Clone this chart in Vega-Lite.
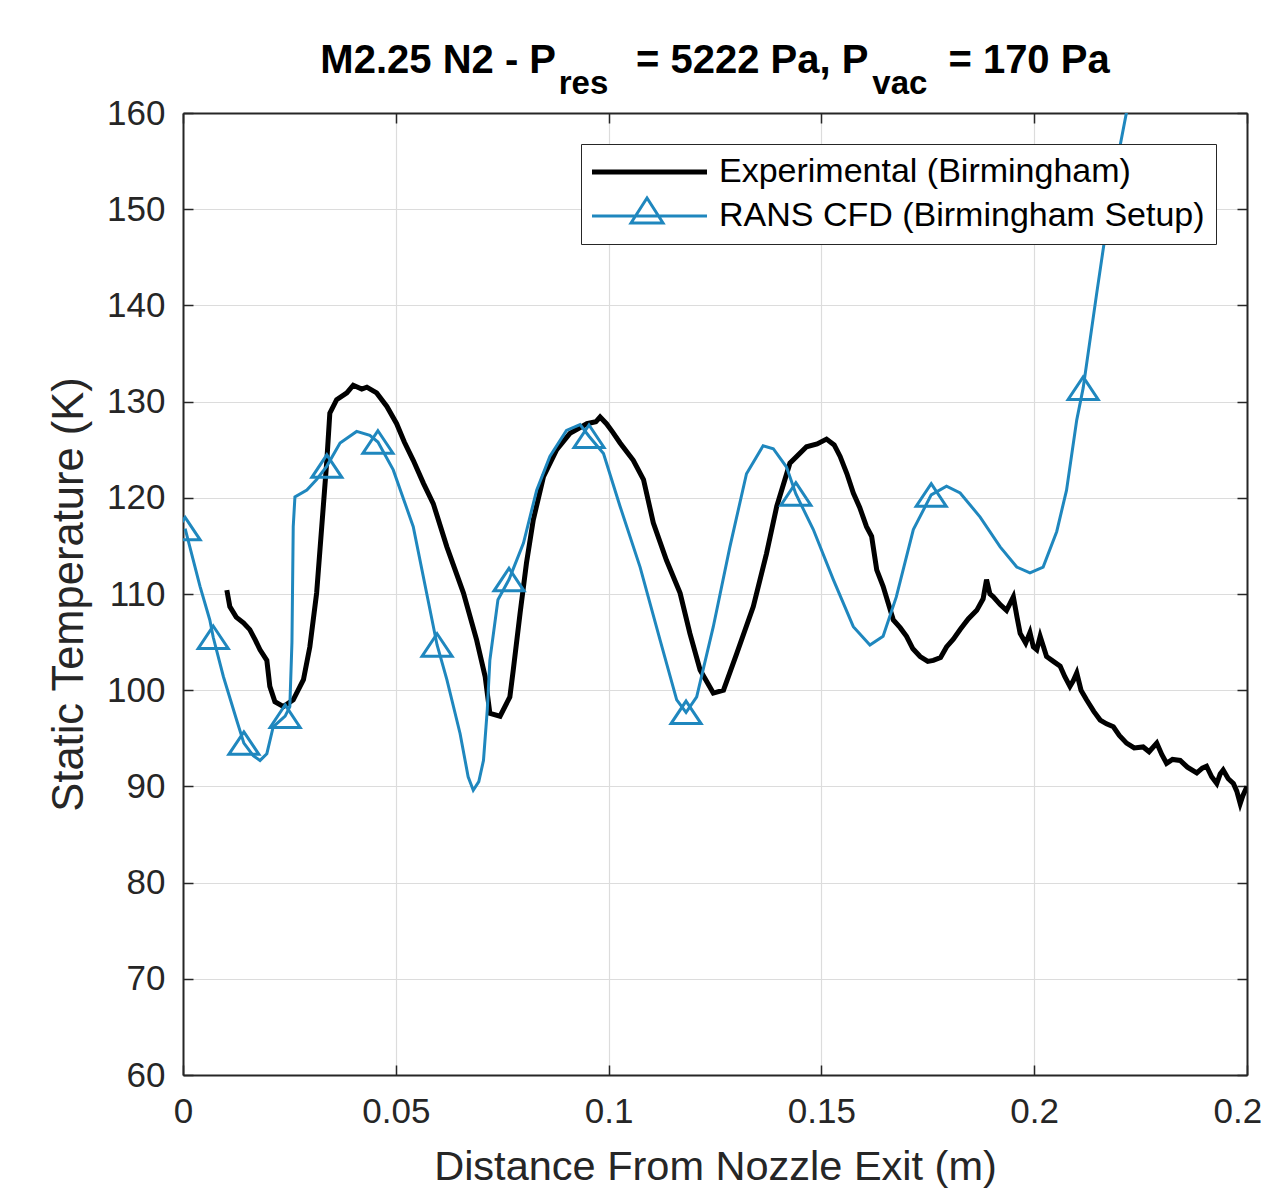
{
  "$schema": "https://vega.github.io/schema/vega-lite/v6.json",
  "width": 1064,
  "height": 962,
  "autosize": {"type": "none"},
  "padding": {"left": 183, "top": 113, "right": 14, "bottom": 123},
  "background": "white",
  "config": {
    "font": "Liberation Sans",
    "view": {"stroke": null},
    "axis": {"labelFont": "Liberation Sans", "titleFont": "Liberation Sans", "labelColor": "#262626", "titleColor": "#262626", "domainColor": "#262626", "domainWidth": 2, "tickColor": "#262626", "tickWidth": 1.5, "gridColor": "#dcdcdc", "gridWidth": 1.2, "labelFontSize": 35, "titleFontSize": 41.5, "titleFontWeight": "normal"}
  },
  "title": {
    "text": "M2.25 N2 - P\u2003\u2003= 5222 Pa, P\u2003\u2003= 170 Pa",
    "subtitle": "\u200b\u2003\u2002\u2009res\u2003\u2003\u2003\u2003\u2003\u2003\u2003\u2003vac\u200b",
    "fontSize": 40,
    "subtitleFontSize": 33,
    "fontWeight": "bold",
    "subtitleFontWeight": "bold",
    "color": "#000000",
    "subtitleColor": "#000000",
    "font": "Liberation Sans",
    "subtitleFont": "Liberation Sans",
    "anchor": "middle",
    "offset": -5,
    "subtitlePadding": -13
  },
  "datasets": {
    "exp": [
      {"x": 0.0103, "y": 110.4}, {"x": 0.0110, "y": 108.7}, {"x": 0.0125, "y": 107.6}, {"x": 0.0142, "y": 107.0},
      {"x": 0.0157, "y": 106.3}, {"x": 0.0170, "y": 105.2}, {"x": 0.0181, "y": 104.2}, {"x": 0.0197, "y": 103.1},
      {"x": 0.0204, "y": 100.4}, {"x": 0.0216, "y": 98.8}, {"x": 0.0236, "y": 98.3}, {"x": 0.0259, "y": 99.0},
      {"x": 0.0283, "y": 101.1}, {"x": 0.0298, "y": 104.5}, {"x": 0.0314, "y": 110.1}, {"x": 0.0326, "y": 117.0},
      {"x": 0.0338, "y": 123.9}, {"x": 0.0345, "y": 128.8}, {"x": 0.0361, "y": 130.2}, {"x": 0.0385, "y": 130.9},
      {"x": 0.0400, "y": 131.7}, {"x": 0.0420, "y": 131.3}, {"x": 0.0432, "y": 131.5}, {"x": 0.0455, "y": 130.9},
      {"x": 0.0479, "y": 129.5}, {"x": 0.0502, "y": 127.7}, {"x": 0.0520, "y": 125.8}, {"x": 0.0541, "y": 123.9},
      {"x": 0.0565, "y": 121.5}, {"x": 0.0588, "y": 119.4}, {"x": 0.0620, "y": 114.9}, {"x": 0.0659, "y": 110.1},
      {"x": 0.0690, "y": 105.2}, {"x": 0.0710, "y": 101.4}, {"x": 0.0721, "y": 97.6}, {"x": 0.0745, "y": 97.3},
      {"x": 0.0768, "y": 99.3}, {"x": 0.0776, "y": 102.1}, {"x": 0.0792, "y": 108.0}, {"x": 0.0807, "y": 113.2},
      {"x": 0.0823, "y": 117.7}, {"x": 0.0847, "y": 122.2}, {"x": 0.0878, "y": 125.0}, {"x": 0.0909, "y": 126.7},
      {"x": 0.0949, "y": 127.7}, {"x": 0.0970, "y": 127.9}, {"x": 0.0980, "y": 128.4}, {"x": 0.0995, "y": 127.7},
      {"x": 0.1010, "y": 126.8}, {"x": 0.1027, "y": 125.7}, {"x": 0.1058, "y": 123.9}, {"x": 0.1082, "y": 121.9},
      {"x": 0.1105, "y": 117.4}, {"x": 0.1136, "y": 113.5}, {"x": 0.1168, "y": 110.1}, {"x": 0.1191, "y": 105.9},
      {"x": 0.1215, "y": 102.1}, {"x": 0.1246, "y": 99.7}, {"x": 0.1270, "y": 100.0}, {"x": 0.1301, "y": 103.8},
      {"x": 0.1340, "y": 108.7}, {"x": 0.1371, "y": 114.2}, {"x": 0.1395, "y": 119.1}, {"x": 0.1426, "y": 123.6},
      {"x": 0.1465, "y": 125.3}, {"x": 0.1490, "y": 125.6}, {"x": 0.1512, "y": 126.1}, {"x": 0.1530, "y": 125.5},
      {"x": 0.1544, "y": 124.3}, {"x": 0.1560, "y": 122.5}, {"x": 0.1575, "y": 120.5}, {"x": 0.1590, "y": 119.0},
      {"x": 0.1606, "y": 117.0}, {"x": 0.1618, "y": 116.0}, {"x": 0.1630, "y": 112.5}, {"x": 0.1645, "y": 110.8},
      {"x": 0.1669, "y": 107.3}, {"x": 0.1685, "y": 106.5}, {"x": 0.1700, "y": 105.6}, {"x": 0.1715, "y": 104.3},
      {"x": 0.1732, "y": 103.5}, {"x": 0.1750, "y": 103.0}, {"x": 0.1763, "y": 103.1}, {"x": 0.1780, "y": 103.4},
      {"x": 0.1794, "y": 104.5}, {"x": 0.1810, "y": 105.3}, {"x": 0.1826, "y": 106.3}, {"x": 0.1845, "y": 107.4},
      {"x": 0.1865, "y": 108.3}, {"x": 0.1880, "y": 109.5}, {"x": 0.1888, "y": 111.5}, {"x": 0.1896, "y": 110.0},
      {"x": 0.1904, "y": 109.7}, {"x": 0.1920, "y": 108.9}, {"x": 0.1935, "y": 108.3}, {"x": 0.1943, "y": 109.0},
      {"x": 0.1951, "y": 109.7}, {"x": 0.1960, "y": 107.5}, {"x": 0.1967, "y": 105.9}, {"x": 0.1980, "y": 104.9},
      {"x": 0.1990, "y": 106.0}, {"x": 0.1998, "y": 104.5}, {"x": 0.2006, "y": 104.2}, {"x": 0.2014, "y": 105.6},
      {"x": 0.2022, "y": 104.5}, {"x": 0.2029, "y": 103.5}, {"x": 0.2045, "y": 103.0}, {"x": 0.2061, "y": 102.5},
      {"x": 0.2072, "y": 101.4}, {"x": 0.2084, "y": 100.4}, {"x": 0.2092, "y": 101.0}, {"x": 0.2100, "y": 101.8},
      {"x": 0.2110, "y": 100.0}, {"x": 0.2123, "y": 99.0}, {"x": 0.2140, "y": 97.8}, {"x": 0.2155, "y": 96.9},
      {"x": 0.2170, "y": 96.5}, {"x": 0.2186, "y": 96.2}, {"x": 0.2200, "y": 95.3}, {"x": 0.2217, "y": 94.5},
      {"x": 0.2235, "y": 94.0}, {"x": 0.2256, "y": 94.1}, {"x": 0.2270, "y": 93.6}, {"x": 0.2288, "y": 94.5},
      {"x": 0.2300, "y": 93.3}, {"x": 0.2311, "y": 92.4}, {"x": 0.2325, "y": 92.8}, {"x": 0.2343, "y": 92.7},
      {"x": 0.2360, "y": 92.0}, {"x": 0.2382, "y": 91.4}, {"x": 0.2395, "y": 91.9}, {"x": 0.2405, "y": 92.1},
      {"x": 0.2417, "y": 91.0}, {"x": 0.2429, "y": 90.3}, {"x": 0.2437, "y": 91.3}, {"x": 0.2444, "y": 91.7},
      {"x": 0.2456, "y": 90.8}, {"x": 0.2468, "y": 90.3}, {"x": 0.2476, "y": 89.5}, {"x": 0.2484, "y": 88.2},
      {"x": 0.2490, "y": 89.0}, {"x": 0.2500, "y": 90.0}
    ],
    "cfd": [
      {"x": 0.0005, "y": 116.8, "m": 1}, {"x": 0.0040, "y": 110.8, "m": 0}, {"x": 0.0063, "y": 107.3, "m": 0},
      {"x": 0.0071, "y": 105.5, "m": 1}, {"x": 0.0095, "y": 101.4, "m": 0}, {"x": 0.0126, "y": 96.9, "m": 0},
      {"x": 0.0143, "y": 94.5, "m": 1}, {"x": 0.0165, "y": 93.2, "m": 0}, {"x": 0.0181, "y": 92.7, "m": 0},
      {"x": 0.0197, "y": 93.4, "m": 0}, {"x": 0.0212, "y": 96.2, "m": 0}, {"x": 0.0240, "y": 97.3, "m": 1},
      {"x": 0.0251, "y": 98.3, "m": 0}, {"x": 0.0256, "y": 105.0, "m": 0}, {"x": 0.0259, "y": 117.0, "m": 0},
      {"x": 0.0263, "y": 120.1, "m": 0}, {"x": 0.0291, "y": 120.8, "m": 0}, {"x": 0.0314, "y": 121.9, "m": 0},
      {"x": 0.0338, "y": 123.3, "m": 1}, {"x": 0.0369, "y": 125.7, "m": 0}, {"x": 0.0408, "y": 126.9, "m": 0},
      {"x": 0.0439, "y": 126.5, "m": 0}, {"x": 0.0458, "y": 125.8, "m": 1}, {"x": 0.0494, "y": 122.9, "m": 0},
      {"x": 0.0541, "y": 117.0, "m": 0}, {"x": 0.0597, "y": 104.7, "m": 1}, {"x": 0.0620, "y": 101.1, "m": 0},
      {"x": 0.0651, "y": 95.5, "m": 0}, {"x": 0.0670, "y": 91.0, "m": 0}, {"x": 0.0682, "y": 89.6, "m": 0},
      {"x": 0.0695, "y": 90.5, "m": 0}, {"x": 0.0706, "y": 92.7, "m": 0}, {"x": 0.0715, "y": 98.0, "m": 0},
      {"x": 0.0721, "y": 103.1, "m": 0}, {"x": 0.0740, "y": 109.4, "m": 0}, {"x": 0.0766, "y": 111.5, "m": 1},
      {"x": 0.0800, "y": 115.3, "m": 0}, {"x": 0.0831, "y": 120.8, "m": 0}, {"x": 0.0862, "y": 124.3, "m": 0},
      {"x": 0.0901, "y": 127.0, "m": 0}, {"x": 0.0933, "y": 127.6, "m": 0}, {"x": 0.0954, "y": 126.4, "m": 1},
      {"x": 0.0988, "y": 124.6, "m": 0}, {"x": 0.1027, "y": 119.1, "m": 0}, {"x": 0.1074, "y": 112.8, "m": 0},
      {"x": 0.1121, "y": 105.2, "m": 0}, {"x": 0.1160, "y": 99.0, "m": 0}, {"x": 0.1182, "y": 97.7, "m": 1},
      {"x": 0.1207, "y": 99.3, "m": 0}, {"x": 0.1246, "y": 106.6, "m": 0}, {"x": 0.1285, "y": 114.9, "m": 0},
      {"x": 0.1324, "y": 122.5, "m": 0}, {"x": 0.1363, "y": 125.4, "m": 0}, {"x": 0.1387, "y": 125.1, "m": 0},
      {"x": 0.1418, "y": 123.2, "m": 0}, {"x": 0.1440, "y": 120.4, "m": 1}, {"x": 0.1481, "y": 116.7, "m": 0},
      {"x": 0.1528, "y": 111.5, "m": 0}, {"x": 0.1575, "y": 106.6, "m": 0}, {"x": 0.1614, "y": 104.7, "m": 0},
      {"x": 0.1645, "y": 105.6, "m": 0}, {"x": 0.1676, "y": 109.7, "m": 0}, {"x": 0.1716, "y": 116.7, "m": 0},
      {"x": 0.1758, "y": 120.3, "m": 1}, {"x": 0.1794, "y": 121.2, "m": 0}, {"x": 0.1826, "y": 120.5, "m": 0},
      {"x": 0.1873, "y": 118.0, "m": 0}, {"x": 0.1920, "y": 114.9, "m": 0}, {"x": 0.1959, "y": 112.8, "m": 0},
      {"x": 0.1990, "y": 112.2, "m": 0}, {"x": 0.2021, "y": 112.8, "m": 0}, {"x": 0.2053, "y": 116.5, "m": 0},
      {"x": 0.2076, "y": 120.8, "m": 0}, {"x": 0.2100, "y": 128.1, "m": 0}, {"x": 0.2115, "y": 131.4, "m": 1},
      {"x": 0.2147, "y": 141.3, "m": 0}, {"x": 0.2170, "y": 148.2, "m": 0}, {"x": 0.2194, "y": 154.8, "m": 0},
      {"x": 0.2217, "y": 160.1, "m": 0}, {"x": 0.2230, "y": 163.0, "m": 0}
    ]
  },
  "layer": [
    {
      "data": {"name": "exp"},
      "mark": {"type": "line", "color": "#000000", "strokeWidth": 5, "clip": true, "interpolate": "linear"},
      "encoding": {
        "x": {"field": "x", "type": "quantitative",
          "scale": {"domain": [0, 0.25], "nice": false, "zero": false},
          "axis": {"orient": "bottom", "values": [0, 0.05, 0.1, 0.15, 0.2, 0.25], "format": "~g", "labelFlush": false, "labelOverlap": false, "grid": true, "ticks": true, "tickSize": -10, "labelPadding": 29, "title": "Distance From Nozzle Exit (m)", "titlePadding": 17, "titleFontSize": 41.5}},
        "y": {"field": "y", "type": "quantitative",
          "scale": {"domain": [60, 160], "nice": false, "zero": false},
          "axis": {"orient": "left", "values": [60, 70, 80, 90, 100, 110, 120, 130, 140, 150, 160], "labelFlush": false, "labelOverlap": false, "grid": true, "ticks": true, "tickSize": -10, "labelPadding": 28, "title": "Static Temperature (K)", "titlePadding": 15, "titleFontSize": 43.5}}
      }
    },
    {
      "data": {"name": "cfd"},
      "mark": {"type": "line", "color": "#1f87be", "strokeWidth": 3, "clip": true},
      "encoding": {
        "x": {"field": "x", "type": "quantitative",
          "axis": {"orient": "top", "values": [0, 0.05, 0.1, 0.15, 0.2, 0.25], "labels": false, "grid": false, "ticks": true, "tickSize": -10, "title": null}},
        "y": {"field": "y", "type": "quantitative",
          "axis": {"orient": "right", "values": [60, 70, 80, 90, 100, 110, 120, 130, 140, 150, 160], "labels": false, "grid": false, "ticks": true, "tickSize": -10, "title": null}}
      }
    },
    {
      "data": {"name": "cfd"},
      "transform": [{"filter": "datum.m == 1"}],
      "mark": {"type": "point", "shape": "M0,-0.75L1,0.75L-1,0.75Z", "size": 900, "filled": false, "stroke": "#1f87be", "strokeWidth": 3, "opacity": 1, "clip": true},
      "encoding": {
        "x": {"field": "x", "type": "quantitative", "axis": null},
        "y": {"field": "y", "type": "quantitative", "axis": null}
      }
    },
    {
      "data": {"name": "cfd"},
      "transform": [{"filter": "false"}],
      "mark": {"type": "point", "filled": false, "opacity": 1},
      "encoding": {
        "x": {"field": "x", "type": "quantitative", "axis": null},
        "y": {"field": "y", "type": "quantitative", "axis": null},
        "color": {"field": "s", "type": "nominal",
          "scale": {"domain": ["Experimental (Birmingham)", "RANS CFD (Birmingham Setup)"], "range": ["#000000", "#1f87be"]},
          "legend": {"title": null, "orient": "top-right", "offset": 31, "padding": 11, "rowPadding": 3, "labelFontSize": 34, "labelOffset": 93, "symbolSize": 400, "strokeColor": "#262626", "fillColor": "#ffffff", "labelLimit": 1000, "labelColor": "#000000", "labelFont": "Liberation Sans", "symbolFillColor": "transparent", "cornerRadius": 0}},
        "shape": {"field": "s", "type": "nominal",
          "scale": {"domain": ["Experimental (Birmingham)", "RANS CFD (Birmingham Setup)"], "range": ["M-1.7,0H9.8", "M-1.7,0H9.8M2.2,0.7L3.8,-1.8L5.4,0.7Z"]}},
        "strokeWidth": {"field": "s", "type": "nominal",
          "scale": {"domain": ["Experimental (Birmingham)", "RANS CFD (Birmingham Setup)"], "range": [5, 3]}}
      }
    }
  ],
  "resolve": {"axis": {"x": "independent", "y": "independent"}}
}
